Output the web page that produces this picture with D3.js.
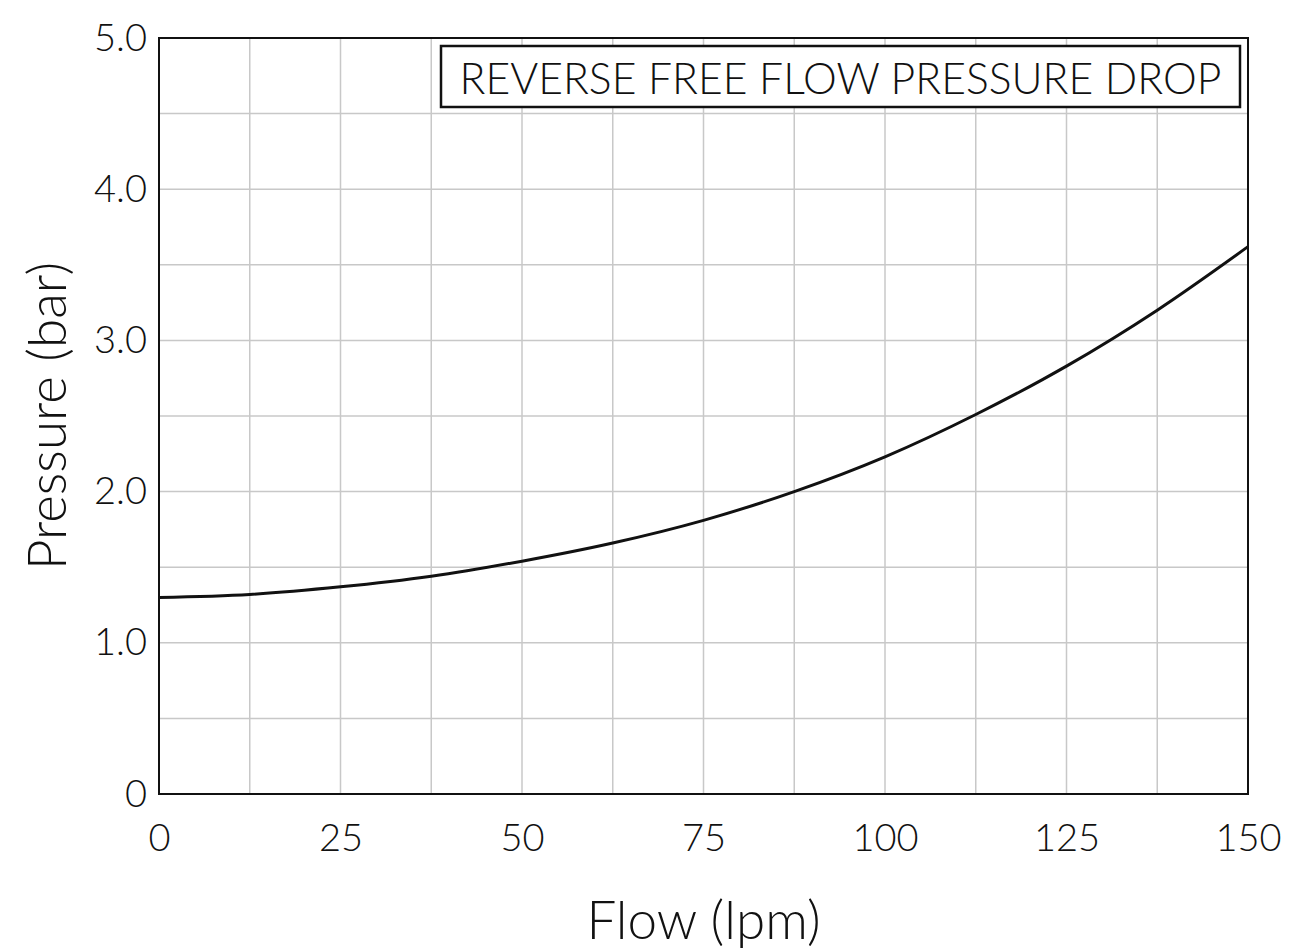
<!DOCTYPE html>
<html><head><meta charset="utf-8">
<script src="https://cdn.jsdelivr.net/npm/d3@7"></script>
<style>
html,body{margin:0;padding:0;background:#fff;}
text{font-family:"Lato","Noto Sans",sans-serif;font-weight:300;fill:#111;}
</style></head>
<body><svg id="c" width="1314" height="949"></svg>
<script>
const flow = [0, 12.5, 25, 37.5, 50, 62.5, 75, 87.5, 100, 112.5, 125, 137.5, 150];
const pressure = [1.30, 1.32, 1.37, 1.44, 1.54, 1.66, 1.81, 2.00, 2.23, 2.51, 2.83, 3.20, 3.62];
const xTicks = [0, 25, 50, 75, 100, 125, 150];
const xTickLabels = ["0", "25", "50", "75", "100", "125", "150"];
const yTicks = [0, 1, 2, 3, 4, 5];
const yTickLabels = ["0", "1.0", "2.0", "3.0", "4.0", "5.0"];
const xGrid = d3.range(0, 150.01, 12.5);
const yGrid = d3.range(0, 5.01, 0.5);
const title = "REVERSE FREE FLOW PRESSURE DROP";

const svg = d3.select("#c");
const L = 159, R = 1248, T = 38, B = 794;
const x = d3.scaleLinear().domain([0, 150]).range([L, R]);
const y = d3.scaleLinear().domain([0, 5]).range([B, T]);

svg.append("g").selectAll("line").data(xGrid).join("line")
  .attr("x1", d => x(d)).attr("x2", d => x(d)).attr("y1", T).attr("y2", B)
  .attr("stroke", "#c8c8c8").attr("stroke-width", 1.5);
svg.append("g").selectAll("line").data(yGrid).join("line")
  .attr("y1", d => y(d)).attr("y2", d => y(d)).attr("x1", L).attr("x2", R)
  .attr("stroke", "#c8c8c8").attr("stroke-width", 1.5);

svg.append("rect").attr("x", L).attr("y", T).attr("width", R - L).attr("height", B - T)
  .attr("fill", "none").attr("stroke", "#111").attr("stroke-width", 2);

const xAxis = svg.append("g").attr("transform", `translate(0,${B})`)
  .call(d3.axisBottom(x).tickValues(xTicks).tickFormat((d, i) => xTickLabels[i]).tickSize(0).tickPadding(30));
xAxis.select(".domain").remove();
xAxis.selectAll("text").style("font-size", "38px").attr("fill", "#111").attr("font-family", null);

const yAxis = svg.append("g").attr("transform", `translate(${L},0)`)
  .call(d3.axisLeft(y).tickValues(yTicks).tickFormat((d, i) => yTickLabels[i]).tickSize(0).tickPadding(12));
yAxis.select(".domain").remove();
yAxis.selectAll("text").style("font-size", "38px").attr("fill", "#111").attr("font-family", null);

const line = d3.line().x((d, i) => x(flow[i])).y(d => y(d)).curve(d3.curveMonotoneX);
svg.append("path").datum(pressure).attr("d", line)
  .attr("fill", "none").attr("stroke", "#111").attr("stroke-width", 3);

// title box
svg.append("rect").attr("x", 441).attr("y", 46).attr("width", 799).attr("height", 61)
  .attr("fill", "#fff").attr("stroke", "#111").attr("stroke-width", 2.5);
svg.append("text").attr("x", 840.5).attr("y", 77).attr("text-anchor", "middle")
  .attr("dominant-baseline", "central").attr("textLength", 762).attr("lengthAdjust", "spacingAndGlyphs")
  .style("font-size", "44px").text(title);

svg.append("text").attr("x", x(75)).attr("y", 918).attr("text-anchor", "middle")
  .attr("dominant-baseline", "central").style("font-size", "53px").text("Flow (lpm)");
svg.append("text").attr("transform", `translate(45,${(T + B) / 2}) rotate(-90)`)
  .attr("text-anchor", "middle").attr("dominant-baseline", "central")
  .style("font-size", "53px").text("Pressure (bar)");
</script></body></html>
